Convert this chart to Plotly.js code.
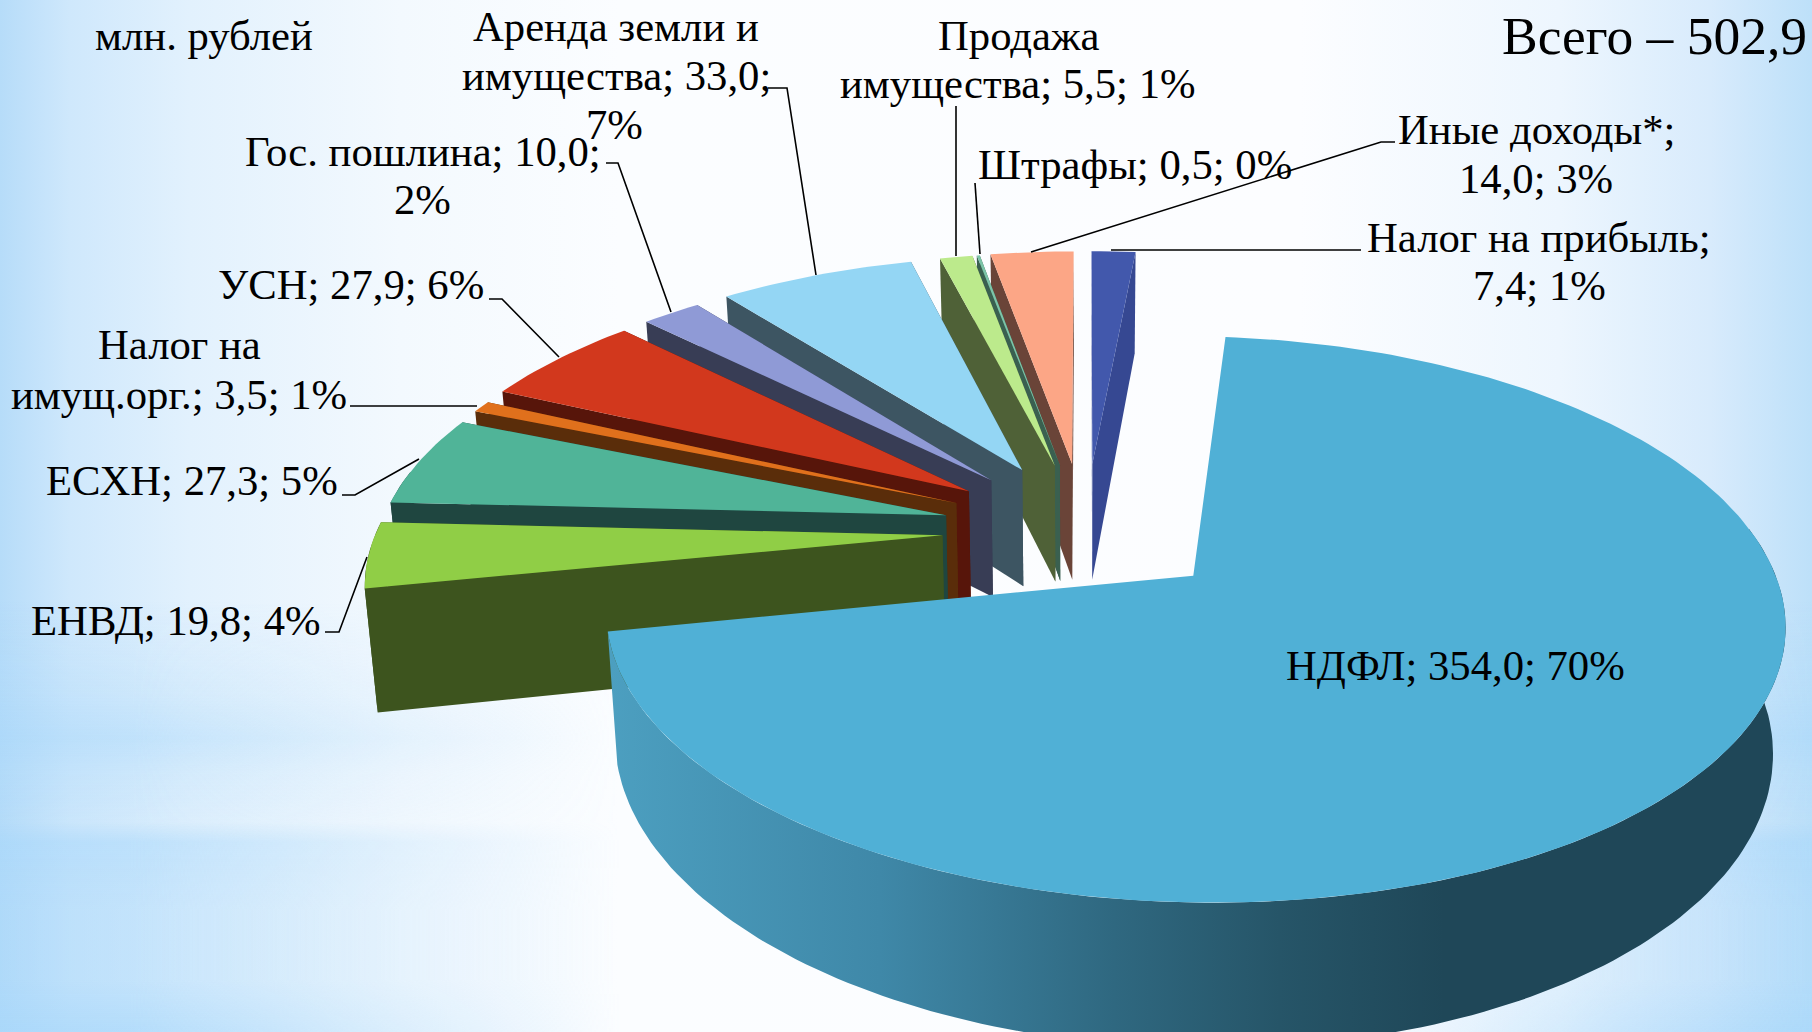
<!DOCTYPE html>
<html><head><meta charset="utf-8">
<script src="https://cdn.plot.ly/plotly-3.0.0.min.js"></script>
<style>
html,body{margin:0;padding:0;width:1812px;height:1032px;overflow:hidden;background:#fff}
#bg,#bands{position:absolute;left:0;top:0;width:1812px;height:1032px}
#bg{background:linear-gradient(90deg,#b6dcf9 0,#cfe8fc 70px,#e2f1fd 190px,#f3f9fe 400px,#fbfdff 620px,#fcfdff 1300px,#edf6fe 1560px,#d8ebfc 1710px,#bde0f9 1812px);}
#bands{background:linear-gradient(180deg,rgba(165,214,250,0) 0,rgba(165,214,250,0) 600px,rgba(165,214,250,.25) 695px,rgba(165,214,250,.48) 738px,rgba(165,214,250,.25) 775px,rgba(165,214,250,.12) 822px,rgba(165,214,250,.55) 842px,rgba(165,214,250,.42) 910px,rgba(165,214,250,.42) 980px,rgba(165,214,250,.72) 1032px);
 -webkit-mask-image:linear-gradient(90deg,#000 0,#000 130px,rgba(0,0,0,.55) 330px,rgba(0,0,0,0) 620px,rgba(0,0,0,0) 1380px,rgba(0,0,0,.6) 1620px,#000 1812px);
 mask-image:linear-gradient(90deg,#000 0,#000 130px,rgba(0,0,0,.55) 330px,rgba(0,0,0,0) 620px,rgba(0,0,0,0) 1380px,rgba(0,0,0,.6) 1620px,#000 1812px);}
#chart{position:absolute;left:0;top:0}
</style></head><body>
<div id="bg"></div><div id="bands"></div><div id="chart"></div>
<script>
// ---- data ----
const categories = ["НДФЛ","ЕНВД","ЕСХН","Налог на имущ.орг.","УСН","Гос. пошлина","Аренда земли и имущества","Продажа имущества","Штрафы","Иные доходы*","Налог на прибыль"];
const values     = [354.0,19.8,27.3,3.5,27.9,10.0,33.0,5.5,0.5,14.0,7.4];
const topColors  = ["#50b0d6","#90ce46","#50b498","#e0701c","#d2381d","#8f9ad6","#94d6f4","#bcea8c","#7cc4a8","#fca686","#4258ac"];
const sideColors = ["#3f88a8","#3d541e","#1f4640","#5a2d0a","#57150a","#383d55","#3d5562","#4f6137","#3a6050","#6a4438","#364892"];
const pulls      = [0.251,0.25,0.25,0.25,0.25,0.25,0.25,0.25,0.25,0.25,0.25];
const radii      = [1.003,1,1,1,1,1,1,1,1,1,1];
const nudgeX     = [1,0,-1,0,-1.5,-1.5,-1.5,0,0,0,2];
const nudgeY     = [2.5,2.5,1.5,1,0,0,-1,-0.5,-0.5,-1,-1];
const total = 502.9;
const firstSliceAngle = 5.3;
const paintOrder = [10,9,8,7,6,5,4,3,2,1,0];

const labelTexts = ["млн. рублей","Аренда земли и","имущества; 33,0;","7%","Продажа","имущества; 5,5; 1%","Гос. пошлина; 10,0;","2%","Штрафы; 0,5; 0%","Иные доходы*;","14,0; 3%","Налог на прибыль;","7,4; 1%","УСН; 27,9; 6%","Налог на","имущ.орг.; 3,5; 1%","ЕСХН; 27,3; 5%","ЕНВД; 19,8; 4%","НДФЛ; 354,0; 70%","Всего – 502,9"];
const labelX = [204,616,616,614,1018,1018,423,422,1135,1536,1536,1539,1539,351,179,179,192,176,1455,1654];
const labelY = [35,26,75,124,35,83,151,199,164,129,178,237,285,284,344,394,480,620,665,36];
const labelSize = [42.7,42.7,42.7,42.7,42.7,42.7,42.7,42.7,42.7,42.7,42.7,42.7,42.7,42.7,42.7,42.7,42.7,42.7,42.7,53.5];

const leaders = [
 [[768,88],[787,88],[816,275]],
 [[606,163],[618,163],[671,312]],
 [[489,299],[502,299],[559,357]],
 [[350,406],[477,406]],
 [[342,495],[355,495],[419,459]],
 [[325,632],[339,632],[367,557]],
 [[956,106],[956,256]],
 [[975,183],[980,254]],
 [[1395,142],[1381,142],[1031,252]],
 [[1361,250],[1111,250]]
];

// ---- perspective of the pie plane ----
const CX=1084, CY=528, SX=566, SY=262, PERSP=0.15, DEPTH=120, SHRINK=0.982;
function proj(X,Y,bottom){
  const w=1-PERSP*Y;
  let sx=CX+SX*X/w, sy=CY+SY*Y/w;
  if(bottom){ sy+=DEPTH/w; sx=CX+(sx-CX)*SHRINK; }
  return [sx,sy];
}
const rad=d=>d*Math.PI/180;
function makeSlice(a0,a1,i){
  const p=pulls[i], R=radii[i];
  const mid=rad((a0+a1)/2), ox=p*Math.sin(mid), oy=-p*Math.cos(mid);
  const pt=(a,r,b)=>{const q=proj(ox+r*R*Math.sin(rad(a)),oy-r*R*Math.cos(rad(a)),b);return [q[0]+nudgeX[i],q[1]+nudgeY[i]];};
  return {pt};
}
function poly(points,color,extra){
  return Object.assign({type:'scatter',mode:'lines',x:points.map(p=>p[0]),y:points.map(p=>p[1]),
    fill:'toself',fillcolor:color,line:{width:0,color:color},hoverinfo:'skip',showlegend:false},extra||{});
}
const traces=[];
let cum=firstSliceAngle; const spans=values.map(v=>{const a=cum;cum+=v/total*360;return [a,cum];});
paintOrder.forEach(i=>{
  const [a0,a1]=spans[i], s=makeSlice(a0,a1,i), side=sideColors[i], top=topColors[i];
  const arc=(u,v,b)=>{const r=[];const m=Math.max(2,Math.ceil(Math.abs(v-u)/1.2));for(let k=0;k<=m;k++)r.push(s.pt(u+(v-u)*k/m,1,b));return r;};
  // outer wall: the part turned to the viewer
  const w0=Math.max(a0,80), w1=Math.min(a1,280);
  if(w1>w0){
    const wall=arc(w0,w1,false).concat(arc(w1,w0,true));
    if(i===0){
      traces.push(poly(wall,side,{fillgradient:{type:'horizontal',start:609,stop:1785,
        colorscale:[[0,'#4c9fc0'],[0.23,'#3f88a8'],[0.43,'#2f6880'],[0.57,'#265568'],[0.71,'#1f4758'],[1,'#1f4758']]}}));
    } else traces.push(poly(wall,side));
  }
  // cut faces
  if(i!==0){
    [a1,a0].forEach(a=>traces.push(poly([s.pt(a,1,false),s.pt(a,0,false),s.pt(a,0,true),s.pt(a,1,true)],side)));
  }
  // top
  traces.push(poly([s.pt(a0,0,false)].concat(arc(a0,a1,false)),top));
});

const annotations=labelTexts.map((t,i)=>({x:labelX[i],y:labelY[i],xref:'x',yref:'y',text:t,showarrow:false,
  xanchor:'center',yanchor:'middle',align:'center',font:{family:'"Liberation Serif",serif',size:labelSize[i],color:'#000'}}));
const shapes=leaders.map(l=>({type:'path',xref:'x',yref:'y',path:'M'+l.map(p=>p.join(' ')).join('L'),line:{color:'#000',width:1.6}}));

Plotly.newPlot('chart',traces,{
  width:1812,height:1032,margin:{l:0,r:0,t:0,b:0},paper_bgcolor:'rgba(0,0,0,0)',plot_bgcolor:'rgba(0,0,0,0)',showlegend:false,
  xaxis:{range:[0,1812],visible:false,fixedrange:true},yaxis:{range:[1032,0],visible:false,fixedrange:true},
  annotations,shapes},{displayModeBar:false,staticPlot:true});
</script></body></html>
